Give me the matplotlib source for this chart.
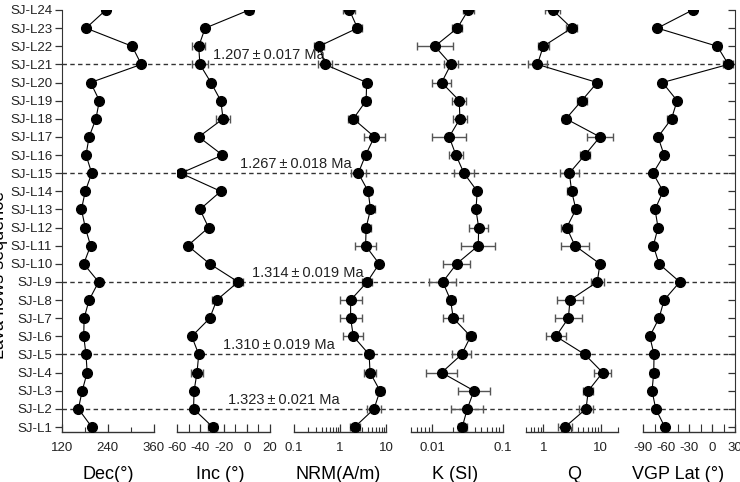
import numpy as np
import matplotlib
matplotlib.use("Agg")
import matplotlib.pyplot as plt
from matplotlib.ticker import FixedLocator, NullFormatter, FixedFormatter

plt.rcParams['font.family'] = ['Liberation Sans', 'DejaVu Sans']

# ---------------- data (ordered SJ-L1 ... SJ-L24) ----------------
sites = ["SJ-L1", "SJ-L2", "SJ-L3", "SJ-L4", "SJ-L5", "SJ-L6", "SJ-L7", "SJ-L8",
         "SJ-L9", "SJ-L10", "SJ-L11", "SJ-L12", "SJ-L13", "SJ-L14", "SJ-L15",
         "SJ-L16", "SJ-L17", "SJ-L18", "SJ-L19", "SJ-L20", "SJ-L21", "SJ-L22",
         "SJ-L23", "SJ-L24"]

dec = [198, 163, 173, 186, 183, 177, 178, 191, 216, 177, 195, 181, 171, 181,
       198, 183, 191, 209, 218, 195, 328, 304, 183, 235]

inc = [-29.5, -46, -45.5, -43, -41.5, -47.5, -32, -26, -7.5, -32, -51, -33,
       -40.5, -22.5, -57, -21, -41.5, -20.5, -22.5, -31, -40.5, -41.5, -36, 2]
inc_err = [3.9, 0.8, 2, 5.2, 2, 1.5, 1.5, 3.9, 4, 1, 2, 1, 1, 1, 4.3, 1, 2,
           5.7, 1, 1, 6.7, 5.7, 1, 3.2]

nrm = [2.1, 5.5, 7.4, 4.5, 4.3, 1.95, 1.7, 1.7, 3.9, 7.1, 3.6, 3.7, 4.6, 4.1,
       2.5, 3.6, 5.6, 1.95, 3.7, 3.8, 0.47, 0.35, 2.4, 1.6]
nrm_err_dex = [0.11, 0.15, 0.09, 0.14, 0.08, 0.22, 0.24, 0.24, 0.11, 0.04,
               0.22, 0.10, 0.09, 0.08, 0.16, 0.07, 0.23, 0.11, 0.08, 0.08,
               0.16, 0.10, 0.10, 0.13]

k_si = [0.0267, 0.0314, 0.0391, 0.0136, 0.0261, 0.0351, 0.0199, 0.0182,
        0.0141, 0.0222, 0.045, 0.0456, 0.0417, 0.0436, 0.0282, 0.0217, 0.0174,
        0.0247, 0.0242, 0.0136, 0.0184, 0.0109, 0.0227, 0.0325]
k_err_dex = [0.067, 0.23, 0.23, 0.22, 0.135, 0.067, 0.14, 0.057, 0.19, 0.19,
             0.24, 0.135, 0.015, 0.015, 0.14, 0.095, 0.24, 0.095, 0.10, 0.13,
             0.095, 0.26, 0.07, 0.08]

q_ratio = [2.39, 5.55, 6.08, 10.8, 5.3, 1.66, 2.73, 2.92, 8.7, 9.7, 3.56,
           2.55, 3.7, 3.12, 2.84, 5.3, 9.7, 2.48, 4.67, 8.7, 0.79, 1.0, 3.12,
           1.46]
q_err_dex = [0.13, 0.13, 0.09, 0.15, 0.06, 0.17, 0.24, 0.23, 0.11, 0.03, 0.24,
             0.09, 0.07, 0.08, 0.17, 0.09, 0.23, 0.06, 0.09, 0.07, 0.16, 0.10,
             0.10, 0.13]

vgp = [-61.6, -73.4, -78.2, -76, -75.6, -81.2, -69.1, -62.5, -42, -69.1,
       -76.5, -70.4, -74.3, -63.8, -76.9, -62.5, -70.4, -52.8, -45.5, -64.6,
       21.3, 6.9, -71.2, -25.3]
vgp_err = [1.5, 1.5, 1.5, 5.5, 1.5, 1.5, 1.5, 3.9, 1.5, 1.5, 1.5, 1.5, 1.5,
           1.5, 4.4, 1.5, 1.5, 5.5, 1.5, 1.5, 6.5, 4.4, 1.5, 1.5]

# dated horizons
age_sites = ["SJ-L21", "SJ-L15", "SJ-L9", "SJ-L5", "SJ-L2"]
age_labels = ["1.207\u2009\u00b1\u20090.017 Ma", "1.267\u2009\u00b1\u20090.018 Ma",
              "1.314\u2009\u00b1\u20090.019 Ma", "1.310\u2009\u00b1\u20090.019 Ma",
              "1.323\u2009\u00b1\u20090.021 Ma"]

titles = ["Dec(\u00b0)", "Inc (\u00b0)", "NRM(A/m)", "K (SI)", "Q", "VGP Lat (\u00b0)"]

# ---------------- layout ----------------
W, H = 740, 482
fig = plt.figure(figsize=(W / 100, H / 100), dpi=100)

ypos = np.arange(1, len(sites) + 1)
y_top_px, y_bot_px = 10, 432
row_px = (427 - 10) / 23.0
ylo = 1 - (432 - 427) / row_px
yhi = 24.0


def rect(x0, x1):
    return [x0 / W, 1 - y_bot_px / H, (x1 - x0) / W, (y_bot_px - y_top_px) / H]


panels = [
    dict(x=(62, 153.5), lim=(120, 360), log=False, tx=0.5),
    dict(x=(177.3, 270), lim=(-60, 20), log=False, tx=0.46),
    dict(x=(294, 386), lim=(0.1, 10), log=True, tx=0.48),
    dict(x=(411, 502.7), lim=(0.005, 0.1), log=True, tx=0.48),
    dict(x=(526, 618), lim=(0.5, 20), log=True, tx=0.52),
    dict(x=(643, 735), lim=(-90, 30), log=False, tx=0.38),
]

# background axes for dashed horizons and age labels
bg = fig.add_axes(rect(62, 735))
bg.set_xlim(62, 735)
bg.set_ylim(ylo, yhi)
bg.axis('off')
age_text_x = [213, 240, 252, 223, 228]
for s, lab, tx in zip(age_sites, age_labels, age_text_x):
    yy = ypos[sites.index(s)]
    bg.axhline(yy, color='#333333', lw=1.0, ls=(0, (3.2, 2.4)), zorder=0)
    bg.text(tx, yy + 0.12, lab, fontsize=10.5, ha='left', va='bottom',
            color='#222222')

err_kw = dict(ecolor='#555555', elinewidth=1.0, capsize=2.8, capthick=1.0)
mk_kw = dict(marker='o', color='black', ms=7, lw=0.8, zorder=3)


def logerr(vals, dex):
    v = np.asarray(vals)
    d = np.asarray(dex)
    return np.vstack([v - v / 10 ** d, v * 10 ** d - v])


series = [
    (dec, None),
    (inc, np.asarray(inc_err)),
    (nrm, logerr(nrm, nrm_err_dex)),
    (k_si, logerr(k_si, k_err_dex)),
    (q_ratio, logerr(q_ratio, q_err_dex)),
    (vgp, np.asarray(vgp_err)),
]

axes = []
for i, (p, (vals, err)) in enumerate(zip(panels, series)):
    ax = fig.add_axes(rect(*p['x']))
    ax.patch.set_alpha(0)
    if p['log']:
        ax.set_xscale('log')
    ax.set_xlim(*p['lim'])
    ax.set_ylim(ylo, yhi)
    if err is not None:
        ax.errorbar(vals, ypos, xerr=err, fmt='none', zorder=2, **err_kw)
    ax.plot(vals, ypos, **mk_kw)
    for sp in ['top', 'right', 'left']:
        ax.spines[sp].set_visible(False)
    ax.spines['bottom'].set_color('#333333')
    ax.spines['bottom'].set_linewidth(1.0)
    ax.tick_params(axis='x', direction='in', length=6, width=0.9,
                   colors='#333333', labelcolor='#222222', labelsize=9.5,
                   pad=7)
    ax.tick_params(axis='x', which='minor', direction='in', length=3.5,
                   width=0.8, colors='#333333')
    ax.set_yticks([])
    ax.set_xlabel(titles[i], fontsize=13)
    ax.xaxis.set_label_coords(p['tx'], -0.1)
    ax.xaxis.label.set_va('center')
    axes.append(ax)

# Dec ticks
axes[0].xaxis.set_major_locator(FixedLocator([120, 240, 360]))
axes[0].xaxis.set_minor_locator(FixedLocator([180, 300]))
axes[0].xaxis.set_major_formatter(FixedFormatter(["120", "240", "360"]))
# Inc ticks
axes[1].xaxis.set_major_locator(FixedLocator([-60, -40, -20, 0, 20]))
axes[1].xaxis.set_minor_locator(FixedLocator([-50, -30, -10, 10]))
axes[1].xaxis.set_major_formatter(FixedFormatter(["-60", "-40", "-20", "0", "20"]))
axes[1].tick_params(axis='x', which='minor', length=6)
# NRM
axes[2].xaxis.set_major_locator(FixedLocator([0.1, 1, 10]))
axes[2].xaxis.set_major_formatter(FixedFormatter(["0.1", "1", "10"]))
# K
axes[3].xaxis.set_major_locator(FixedLocator([0.01, 0.1]))
axes[3].xaxis.set_major_formatter(FixedFormatter(["0.01", "0.1"]))
# Q
axes[4].xaxis.set_major_locator(FixedLocator([1, 10]))
axes[4].xaxis.set_major_formatter(FixedFormatter(["1", "10"]))
# VGP
axes[5].xaxis.set_major_locator(FixedLocator([-90, -60, -30, 0, 30]))
axes[5].xaxis.set_minor_locator(FixedLocator([-75, -45, -15, 15]))
axes[5].xaxis.set_major_formatter(FixedFormatter(["-90", "-60", "-30", "0", "30"]))
axes[5].tick_params(axis='x', which='minor', length=6)
for ax in axes[2:5]:
    ax.xaxis.set_minor_formatter(NullFormatter())

# left axis with site names
a0 = axes[0]
a0.spines['left'].set_visible(True)
a0.spines['left'].set_color('#333333')
a0.set_yticks(ypos)
a0.set_yticklabels(sites)
a0.tick_params(axis='y', direction='out', length=5, width=0.9, colors='#333333',
               labelcolor='#222222', labelsize=9.5, pad=2)
a0.set_ylabel("Lava flows sequence", fontsize=13)
a0.yaxis.set_label_coords(-0.585, 0.372)

# right axis of VGP panel
a5 = axes[5]
a5.spines['right'].set_visible(True)
a5.spines['right'].set_color('#333333')
a5.yaxis.set_ticks_position('right')
a5.set_yticks(ypos)
a5.tick_params(axis='y', direction='in', length=5, width=0.9, colors='#333333',
               labelright=False, labelleft=False)

fig.savefig("out.png", dpi=100)
